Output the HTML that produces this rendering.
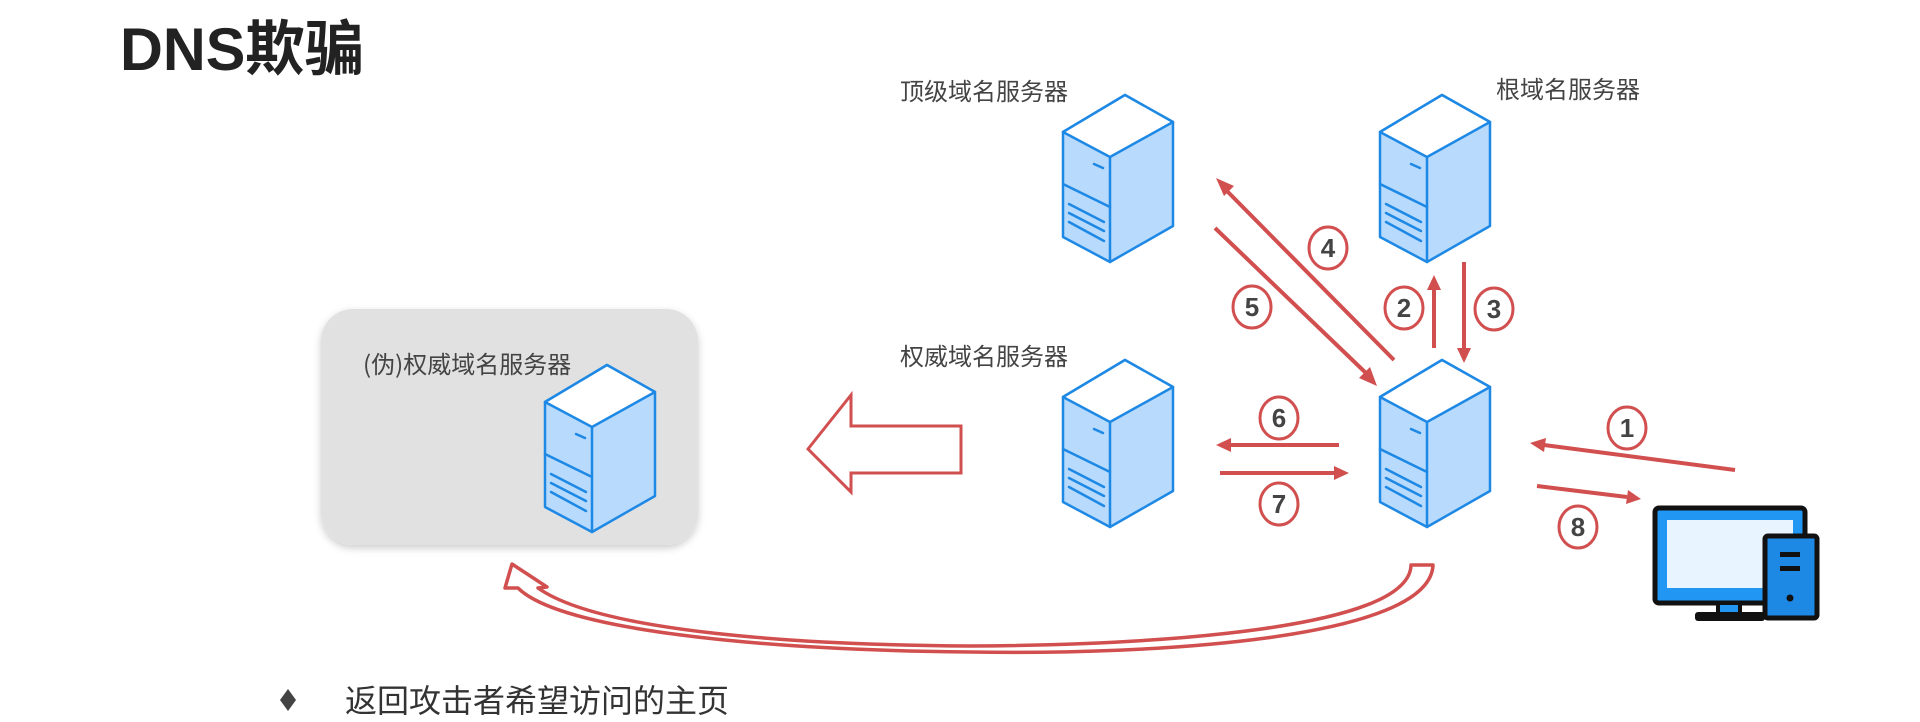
<!DOCTYPE html>
<html><head><meta charset="utf-8"><style>
html,body{margin:0;padding:0;background:#fff;}
svg{display:block;}
</style></head><body>
<svg width="1920" height="722" viewBox="0 0 1920 722" xmlns="http://www.w3.org/2000/svg">
<defs>
<g id="srv" stroke="#1e88e5" stroke-width="2.5" stroke-linejoin="round" stroke-linecap="round">
 <path d="M62,0 L110,27 L110,131 L47,167 L0,142 L0,37 Z" fill="#b7dafd"/>
 <path d="M62,0 L110,27 L47,62 L0,37 Z" fill="#fff"/>
 <path d="M47,62 L47,167" fill="none"/>
 <path d="M0,89 L47,112" fill="none"/>
 <path d="M6,109 L41,127 M6,118 L41,136 M6,127 L41,146 M31,69 L40,73" fill="none"/>
</g>
<filter id="sh" x="-10%" y="-10%" width="120%" height="130%"><feDropShadow dx="0" dy="3" stdDeviation="4" flood-color="#000" flood-opacity="0.2"/></filter>
</defs>
<text x="120" y="70" font-family="Liberation Sans,'Noto Sans CJK SC',sans-serif" font-weight="bold" font-size="60" fill="#222" textLength="244" lengthAdjust="spacingAndGlyphs">DNS欺骗</text>

<rect x="321" y="309" width="377" height="236" rx="32" fill="#e1e1e1" filter="url(#sh)"/>
<g font-family="'Noto Sans CJK SC',sans-serif" font-size="24" fill="#444">
<text x="900" y="100">顶级域名服务器</text>
<text x="1496" y="98">根域名服务器</text>
<text x="900" y="365">权威域名服务器</text>
<text x="363" y="373">(伪)权威域名服务器</text>
</g>
<use href="#srv" x="1063" y="95"/>
<use href="#srv" x="1380" y="95"/>
<use href="#srv" x="1063" y="360"/>
<use href="#srv" x="1380" y="360"/>
<use href="#srv" x="545" y="365"/>

<path d="M808,449 L851,395 L851,426 L961,426 L961,473 L851,473 L851,492 Z" fill="#fff" stroke="#d24f4f" stroke-width="3" stroke-linejoin="miter"/>

<g stroke="#d24f4f" stroke-width="4" fill="#d24f4f">
 <line x1="1394" y1="360" x2="1224" y2="188"/><path d="M1216,178 L1234,186 L1224,196 Z" stroke="none"/>
 <line x1="1215" y1="228" x2="1368" y2="375"/><path d="M1377,386 L1359,378 L1370,367 Z" stroke="none"/>
 <line x1="1434" y1="348" x2="1434" y2="288"/><path d="M1434,275 L1441,290 L1427,290 Z" stroke="none"/>
 <line x1="1464" y1="262" x2="1464" y2="350"/><path d="M1464,363 L1457,348 L1471,348 Z" stroke="none"/>
 <line x1="1339" y1="445" x2="1230" y2="445"/><path d="M1216,445 L1231,438 L1231,452 Z" stroke="none"/>
 <line x1="1220" y1="473" x2="1335" y2="473"/><path d="M1349,473 L1334,466 L1334,480 Z" stroke="none"/>
 <line x1="1735" y1="470" x2="1544" y2="445"/><path d="M1530,443 L1546,438 L1544,452 Z" stroke="none"/>
 <line x1="1537" y1="486" x2="1627" y2="497"/><path d="M1641,499 L1626,504 L1628,490 Z" stroke="none"/>
</g>
<g font-family="Liberation Sans,sans-serif" font-weight="bold" font-size="26" fill="#444" text-anchor="middle">
 <g fill="#fff" stroke="#d24f4f" stroke-width="3">
  <ellipse cx="1328" cy="248" rx="19" ry="21"/><ellipse cx="1252" cy="307" rx="19" ry="21"/><ellipse cx="1404" cy="308" rx="19" ry="21"/><ellipse cx="1494" cy="309" rx="19" ry="21"/>
  <ellipse cx="1279" cy="418" rx="19" ry="21"/><ellipse cx="1279" cy="504" rx="19" ry="21"/><ellipse cx="1627" cy="428" rx="19" ry="21"/><ellipse cx="1578" cy="527" rx="19" ry="21"/>
 </g>
 <text x="1328" y="257">4</text><text x="1252" y="316">5</text><text x="1404" y="317">2</text><text x="1494" y="318">3</text>
 <text x="1279" y="427">6</text><text x="1279" y="513">7</text><text x="1627" y="437">1</text><text x="1578" y="536">8</text>
</g>

<rect x="1655" y="508" width="150" height="95" rx="4" fill="#2196f3" stroke="#111" stroke-width="5"/>
<rect x="1667" y="520" width="126" height="68" fill="#e8f4ff"/>
<rect x="1718" y="603" width="22" height="12" fill="#2196f3" stroke="#111" stroke-width="4"/>
<rect x="1695" y="612" width="70" height="9" rx="3" fill="#111"/>
<rect x="1765" y="536" width="52" height="82" rx="3" fill="#1e88e5" stroke="#111" stroke-width="5"/>
<rect x="1780" y="552" width="20" height="5" fill="#111"/><rect x="1780" y="566" width="20" height="5" fill="#111"/>
<circle cx="1790" cy="598" r="3.5" fill="#111"/>

<path d="M1433,565 C1430,640 1150,655 970,652 C760,650 560,630 518,588 L505,588 L512,564 L547,587 L538,588 C600,632 800,645 970,646 C1150,645 1410,630 1411,565 Z" fill="#fff" stroke="#d24f4f" stroke-width="3.5" stroke-linejoin="round"/>

<path d="M288,689 L296,700 L288,711 L280,700 Z" fill="#444"/>
<text x="345" y="712" font-family="'Noto Sans CJK SC',sans-serif" font-size="32" fill="#333">返回攻击者希望访问的主页</text>
</svg>
</body></html>
